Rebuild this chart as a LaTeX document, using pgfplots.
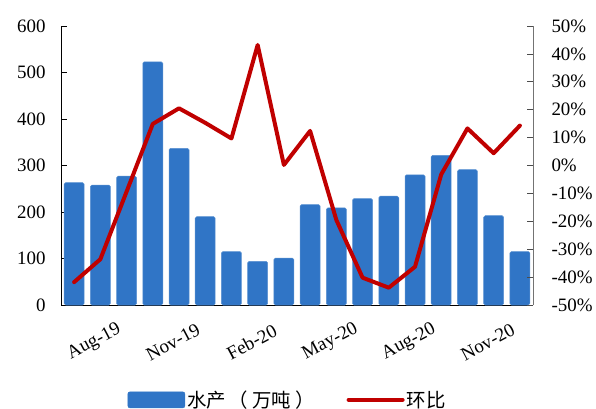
\documentclass[border=0pt]{standalone}
\usepackage{pgfplots}
\pgfplotsset{compat=1.18}
\usepackage{fontspec}
\setmainfont{Liberation Serif}
\newfontfamily\cjk{Noto Sans CJK SC}
\definecolor{barblue}{RGB}{48,117,198}
\definecolor{linered}{RGB}{192,0,0}
\begin{document}
\begin{tikzpicture}
\useasboundingbox (-61bp,-104bp) rectangle (535bp,305bp);
\begin{axis}[
  at={(0,0)}, anchor=south west,
  scale only axis, width=472bp, height=279bp,
  xmin=-0.5, xmax=17.5, ymin=0, ymax=600,
  ytick={0,100,...,600},
  xtick={1,4,7,10,13,16},
  xticklabels={Aug-19,Nov-19,Feb-20,May-20,Aug-20,Nov-20},
  axis x line*=bottom, axis y line*=left,
  axis line style={black, line width=0.8bp},
  tick align=inside,
  major x tick style={draw=none},
  major y tick style={black, line width=0.8bp},
  major tick length=6bp,
  tick label style={font=\fontsize{19}{22}\selectfont},
  /pgf/number format/assume math mode=true,
  yticklabel style={xshift=-12bp},
  xticklabel style={xshift=-6bp, yshift=-31bp, rotate=28, anchor=center},
  ybar, bar width=20bp,
]
\addplot[fill=barblue, draw=barblue!80!white, line width=0.5bp, rounded corners=1.5bp] coordinates {
(0,263) (1,258) (2,277) (3,523) (4,337) (5,190) (6,115) (7,94) (8,101)
(9,216) (10,209) (11,229) (12,234) (13,280) (14,322) (15,291) (16,192) (17,115)
};
\end{axis}
\begin{axis}[
  at={(0,0)}, anchor=south west,
  scale only axis, width=472bp, height=279bp,
  xmin=-0.5, xmax=17.5, ymin=-50, ymax=50,
  ytick={-50,-40,...,50},
  axis x line=none, axis y line*=right,
  axis line style={black!55, line width=0.8bp},
  tick align=inside,
  major y tick style={black!70, line width=0.8bp},
  major tick length=6bp,
  tick label style={font=\fontsize{19}{22}\selectfont},
  /pgf/number format/assume math mode=true,
  yticklabel={\pgfmathprintnumber{\tick}\%},
  yticklabel style={xshift=15bp, anchor=west},
  legend columns=2,
  legend style={at={(0.48,-0.34)}, anchor=center, draw=none, fill=none,
    font=\cjk\fontsize{19.5}{22}\selectfont,
    /tikz/every even column/.append style={column sep=30bp}},
]
\addlegendimage{legend image code/.code={\fill[barblue, rounded corners=2bp] (-4bp,-8bp) rectangle (53bp,8bp);}}
\addlegendentry{水产\hspace{3bp}（\hspace{4bp}万吨\hspace{4bp}）}
\addplot[linered, line width=4bp, line join=round, line cap=round,
  legend image code/.code={\draw[linered, line width=4bp, line cap=round] (-4bp,0bp) -- (50bp,0bp);}] coordinates {
(0,-41.8) (1,-33.6) (2,-9.4) (3,14.9) (4,20.5) (5,15.3) (6,9.7) (7,43.2) (8,0.2)
(9,12.4) (10,-19.5) (11,-40.2) (12,-43.8) (13,-36.3) (14,-3.2) (15,13.3) (16,4.4) (17,14.3)
};
\addlegendentry{环比}
\end{axis}
\end{tikzpicture}
\end{document}
